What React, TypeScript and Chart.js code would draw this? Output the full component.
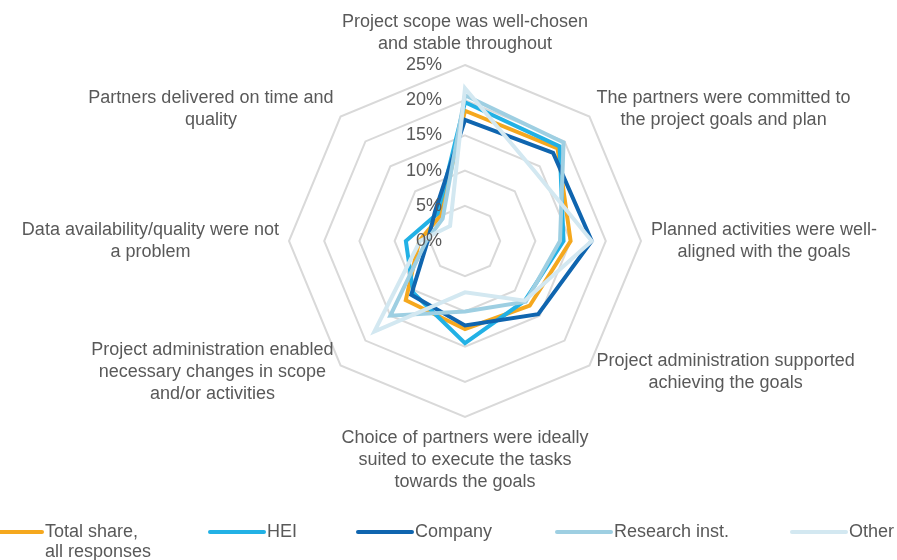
import React, { useEffect, useRef } from "react";
import { Chart, registerables } from "chart.js";

Chart.register(...registerables);

// ---- data ----
const axisLabels: string[][] = [
  ["Project scope was well-chosen", "and stable throughout"],
  ["The partners were committed to", "the project goals and plan"],
  ["Planned activities were well-", "aligned with the goals"],
  ["Project administration supported", "achieving the goals"],
  ["Choice of partners were ideally", "suited to execute the tasks", "towards the goals"],
  ["Project administration enabled", "necessary changes in scope", "and/or activities"],
  ["Data availability/quality were not", "a problem"],
  ["Partners delivered on time and", "quality"],
];

const seriesNames = ["Total share, all responses", "HEI", "Company", "Research inst.", "Other"];
const legendLines: string[][] = [["Total share,", "all responses"], ["HEI"], ["Company"], ["Research inst."], ["Other"]];

const totalShare = [18.5, 18.6, 15.0, 13.0, 12.5, 11.9, 6.5, 5.0];
const hei = [19.7, 19.0, 14.0, 12.0, 14.5, 10.4, 8.4, 5.5];
const company = [17.2, 17.7, 18.0, 14.7, 12.0, 10.8, 5.3, 6.0];
const researchInst = [20.7, 19.8, 13.5, 12.2, 10.0, 15.0, 5.5, 4.5];
const other = [21.7, 14.0, 18.0, 12.0, 7.3, 18.2, 6.4, 3.0];

const tickValues = [0, 5, 10, 15, 20, 25];

// ---- styles ----
const seriesColors = ["#F5A81E", "#22B1E5", "#0F65AF", "#9ECFE2", "#D3E8F1"];
const seriesOrder = [4, 3, 2, 1, 0];
const textColor = "#595959";
const FONT = "'Liberation Sans', Arial, sans-serif";

const customText = {
  id: "customText",
  afterDatasetsDraw(chart: any) {
    const scale = chart.scales.r;
    const ctx = chart.ctx;
    ctx.save();
    ctx.fillStyle = textColor;
    ctx.font = `18px ${FONT}`;
    ctx.textBaseline = "middle";
    // tick labels, left of the vertical axis
    ctx.textAlign = "right";
    tickValues.forEach((v) => {
      const d = scale.getDistanceFromCenterForValue(v);
      ctx.fillText(v + "%", scale.xCenter - 23, scale.yCenter - d);
    });
    // point labels
    const lh = 22;
    const R = scale.drawingArea + 10;
    axisLabels.forEach((lines, i) => {
      const p = scale.getPointPosition(i, R);
      const dx = p.x - scale.xCenter;
      const dy = p.y - scale.yCenter;
      const w = Math.max(...lines.map((l) => ctx.measureText(l).width));
      const h = lines.length * lh;
      let cx = p.x;
      if (dx > 1) cx = p.x + w / 2;
      else if (dx < -1) cx = p.x - w / 2;
      let top: number;
      if (Math.abs(dx) > 1) top = p.y - h / 2;
      else if (dy < 0) top = p.y - h;
      else top = p.y;
      ctx.textAlign = "center";
      lines.forEach((l, j) => ctx.fillText(l, cx, top + lh * (j + 0.5)));
    });
    ctx.restore();
  },
  afterDraw(chart: any) {
    const ctx = chart.ctx;
    const sampleStart = [-12, 210, 358, 557, 792];
    const sampleW = 54;
    const y = 532;
    ctx.save();
    ctx.font = `18px ${FONT}`;
    ctx.textBaseline = "middle";
    ctx.textAlign = "left";
    legendLines.forEach((lines, i) => {
      const x0 = sampleStart[i];
      ctx.strokeStyle = seriesColors[i];
      ctx.lineWidth = 4;
      ctx.lineCap = "round";
      ctx.beginPath();
      ctx.moveTo(x0, y);
      ctx.lineTo(x0 + sampleW, y);
      ctx.stroke();
      ctx.fillStyle = textColor;
      lines.forEach((l, j) => ctx.fillText(l, x0 + sampleW + 3, y + j * 20));
    });
    ctx.restore();
  },
};

export default function App() {
  const ref = useRef<HTMLCanvasElement>(null);
  useEffect(() => {
    if (!ref.current) return;
    const series = [totalShare, hei, company, researchInst, other];
    const chart = new Chart(ref.current, {
      type: "radar",
      data: {
        labels: axisLabels.map((l) => l.join(" ")),
        datasets: series.map((d, i) => ({
          label: seriesNames[i],
          data: d,
          borderColor: seriesColors[i],
          backgroundColor: seriesColors[i],
          borderWidth: 4,
          fill: false,
          pointRadius: 0,
          pointHoverRadius: 0,
          tension: 0,
          borderJoinStyle: "miter" as const,
          order: seriesOrder[i],
        })),
      },
      options: {
        animation: false,
        responsive: true,
        maintainAspectRatio: false,
        layout: { padding: { left: 289, right: 256, top: 65, bottom: 143 } },
        plugins: { legend: { display: false }, tooltip: { enabled: false } },
        scales: {
          r: {
            min: 0,
            max: 25,
            ticks: { display: false, stepSize: 5 },
            grid: { color: "#D9D9D9", lineWidth: 2 },
            angleLines: { display: false },
            pointLabels: { display: false },
          },
        },
      },
      plugins: [customText],
    });
    return () => chart.destroy();
  }, []);
  return (
    <div style={{ position: "absolute", left: 0, top: 0, width: 897, height: 560, background: "#fff" }}>
      <canvas ref={ref} />
    </div>
  );
}
